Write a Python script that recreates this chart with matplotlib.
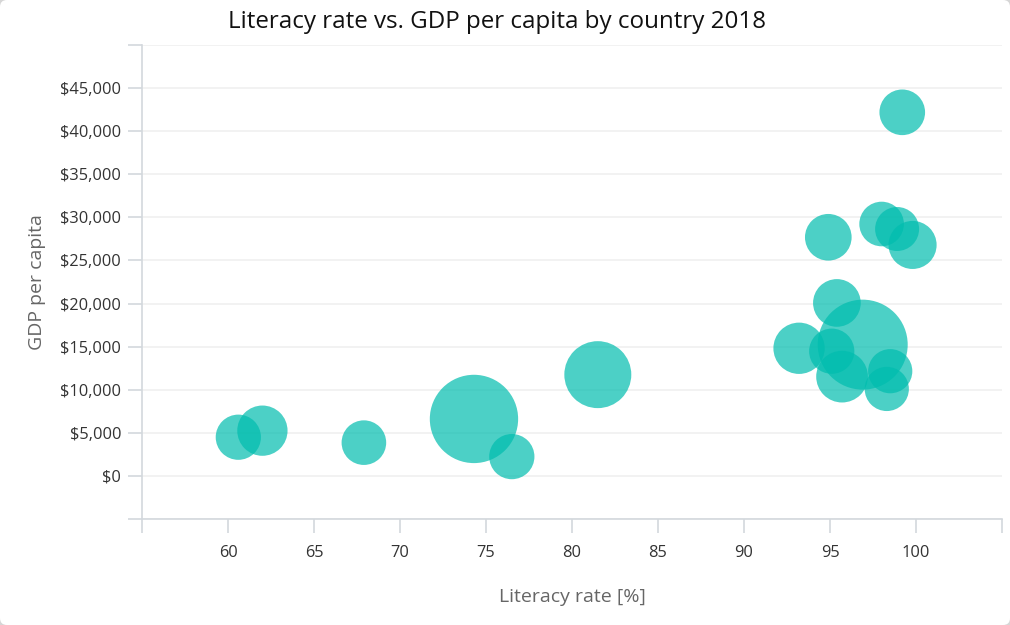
import numpy as np
import matplotlib
matplotlib.use("Agg")
from matplotlib import pyplot as plt
from matplotlib.patches import FancyBboxPatch
from matplotlib.transforms import IdentityTransform
from matplotlib.ticker import FuncFormatter, MultipleLocator

# data
literacy = [60.6, 62.0, 67.9, 74.3, 76.5, 81.5, 99.2, 94.9, 98.0, 98.9,
            99.8, 95.4, 96.9, 93.2, 95.1, 95.7, 98.5, 98.3]
gdp = [4490, 5250, 3860, 6610, 2240, 11750, 42190, 27690, 29230, 28650,
       26800, 20070, 15230, 14810, 14470, 11520, 12150, 10090]
population = [49, 200, 30, 1340, 49, 700, 61, 91, 30, 12,
              134, 122, 1390, 231, 49, 243, 18, 18]
x_ticks = [60, 65, 70, 75, 80, 85, 90, 95, 100]
y_ticks = [0, 5000, 10000, 15000, 20000, 25000, 30000, 35000, 40000, 45000]

plt.rcParams['font.family'] = ['Open Sans', 'DejaVu Sans']

fig = plt.figure(figsize=(10.1, 6.25), dpi=100)
fig.patch.set_facecolor('#d6d6d6')
# white card with small rounded corners, only the corners show grey
card = FancyBboxPatch((0, 0), 1010, 625, boxstyle="round,pad=0,rounding_size=7",
                      transform=IdentityTransform(), facecolor='white',
                      edgecolor='none', zorder=-10)
fig.patches.append(card)

ax = fig.add_axes([0.1406, 0.1696, 0.8515, 0.7584])
ax.set_facecolor('none')

# bubble radius: linear between min and max radius (pixels)
pop = np.array(population, dtype=float)
r_px = 22 + 23 * (pop - pop.min()) / (pop.max() - pop.min())
sizes = (2 * r_px * 72 / fig.dpi) ** 2
ax.scatter(literacy, gdp, s=sizes, color='#00bdae', alpha=0.7, linewidths=0, zorder=3)

ax.set_xlim(55, 105)
ax.set_ylim(-5000, 50000)
ax.xaxis.set_major_locator(MultipleLocator(5))
ax.yaxis.set_major_locator(MultipleLocator(5000))
ax.yaxis.set_major_formatter(FuncFormatter(
    lambda v, p: ('${:,.0f}'.format(v)) if v in y_ticks else ''))
ax.xaxis.set_major_formatter(FuncFormatter(
    lambda v, p: ('{:.0f}'.format(v)) if v in x_ticks else ''))

ax.grid(axis='y', color='#f0f0f0', linewidth=1.2, zorder=0)
ax.grid(axis='x', visible=False)

for s in ['top', 'right']:
    ax.spines[s].set_visible(False)
for s in ['left', 'bottom']:
    ax.spines[s].set_color('#d3d8dd')
    ax.spines[s].set_linewidth(1.2)

ax.tick_params(axis='both', color='#d3d8dd', width=1.2, length=10,
               labelsize=11.8, labelcolor='#333333')
ax.tick_params(axis='y', pad=5)
ax.tick_params(axis='x', pad=9)

ax.set_xlabel('Literacy rate [%]', fontsize=14, color='#666666', labelpad=19)
ax.set_ylabel('GDP per capita', fontsize=14, color='#666666', labelpad=10)

fig.text(0.492, 0.965, 'Literacy rate vs. GDP per capita by country 2018',
         ha='center', va='center', fontsize=17.4, color='#111111')

fig.savefig('out.png', dpi=100)
